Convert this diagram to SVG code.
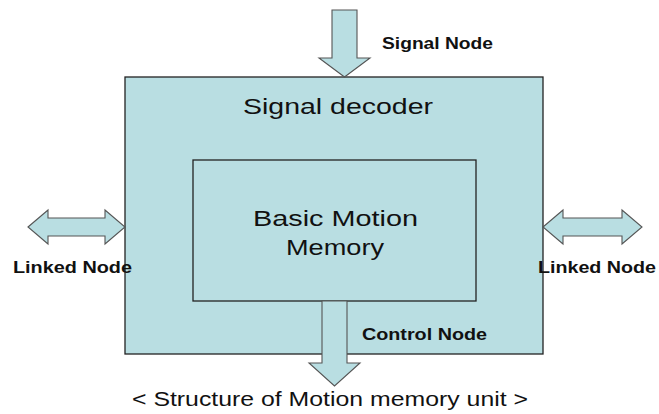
<svg xmlns="http://www.w3.org/2000/svg" width="659" height="414" viewBox="0 0 659 414">
<style>
.box{fill:#B9DEE2;stroke:#222;stroke-width:1.3}
.arr{fill:#B9DEE2;stroke:#555;stroke-width:1.1;stroke-linejoin:miter}
.big{font-family:"Liberation Sans",Arial,sans-serif;font-size:22px;fill:#111}
.lbl{font-family:"Liberation Sans",Arial,sans-serif;font-size:16px;font-weight:bold;fill:#111}
.cap{font-family:"Liberation Sans",Arial,sans-serif;font-size:20.5px;fill:#111}
</style>
<rect width="659" height="414" fill="#fff"/>
<g id="signal-decoder">
<rect class="box" x="125" y="77" width="418" height="277"/>
<text class="big" x="243" y="114" textLength="190" lengthAdjust="spacingAndGlyphs">Signal decoder</text>
</g>
<g id="basic-motion-memory">
<rect class="box" x="193" y="160" width="283" height="141"/>
<text class="big" x="253" y="226" textLength="165" lengthAdjust="spacingAndGlyphs">Basic Motion</text>
<text class="big" x="286" y="255" textLength="98" lengthAdjust="spacingAndGlyphs">Memory</text>
</g>
<g id="connectors">
<polygon id="signal-arrow" class="arr" points="332,10 357,10 357,58 370,58 344.5,77 319,58 332,58"/>
<polygon id="control-arrow" class="arr" points="322,301 347,301 347,363 360,363 334.5,386 309,363 322,363"/>
<polygon id="linked-left-arrow" class="arr" points="28,227 48,210 48,218 105,218 105,210 125,227 105,244 105,236 48,236 48,244"/>
<polygon id="linked-right-arrow" class="arr" points="543,227 563,210 563,218 622,218 622,210 642,227 622,244 622,236 563,236 563,244"/>
</g>
<g id="labels">
<text class="lbl" x="382" y="49" textLength="111" lengthAdjust="spacingAndGlyphs">Signal Node</text>
<text class="lbl" x="13" y="273" textLength="119" lengthAdjust="spacingAndGlyphs">Linked Node</text>
<text class="lbl" x="538" y="273" textLength="118" lengthAdjust="spacingAndGlyphs">Linked Node</text>
<text class="lbl" x="362" y="340" textLength="125" lengthAdjust="spacingAndGlyphs">Control Node</text>
<text class="cap" x="132" y="406" textLength="396" lengthAdjust="spacingAndGlyphs">&lt; Structure of Motion memory unit &gt;</text>
</g>
</svg>
